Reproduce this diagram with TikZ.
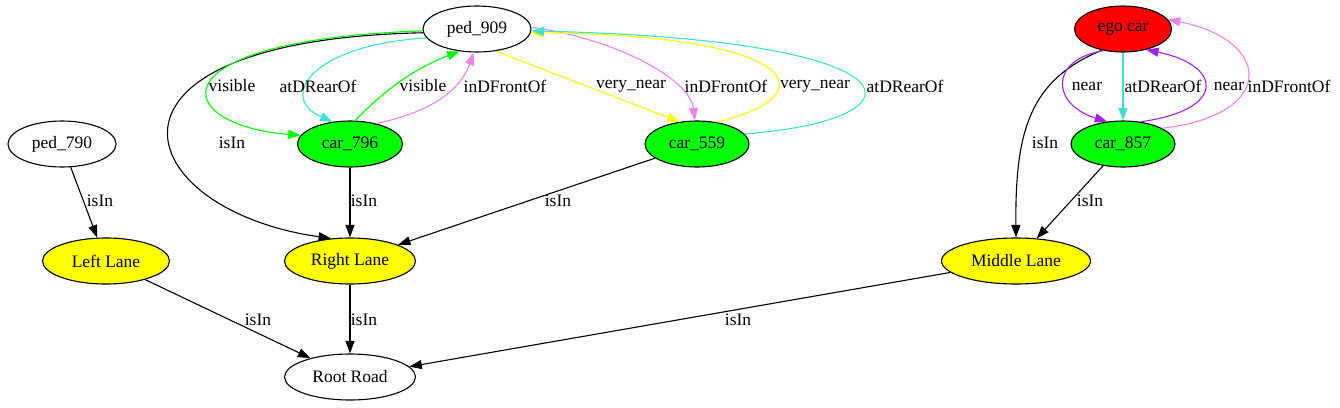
\documentclass[tikz,border=0pt]{standalone}
\usepackage{fontspec}
\setmainfont{Liberation Serif}
\usetikzlibrary{arrows.meta,shapes.geometric}
\definecolor{gvgreen}{HTML}{00FF00}
\definecolor{gvturq}{HTML}{40E0D0}
\definecolor{gvviolet}{HTML}{EE82EE}
\definecolor{gvyellow}{HTML}{FFFF00}
\definecolor{gvpurple}{HTML}{A020F0}
\definecolor{gvred}{HTML}{FF0000}
\tikzset{
  gnode/.style={ellipse, draw=black, line width=1.1pt, inner sep=0pt, minimum height=46pt, font=\fontsize{17.5}{20}\selectfont},
  lbl/.style={font=\fontsize{17.5}{20}\selectfont, inner sep=0pt},
  edge/.style={line width=1.1pt, -{Triangle[length=12.5pt,width=9pt]}},
}
\begin{document}
\begin{tikzpicture}[x=1pt,y=-1pt]
\useasboundingbox (0,0) rectangle (1340,407);
% nodes
\node[gnode, minimum width=108pt] (ped909) at (477,29) {ped\_909};
\node[gnode, minimum width=105pt, fill=gvgreen] (car796) at (350,144) {car\_796};
\node[gnode, minimum width=104pt, fill=gvgreen] (car559) at (697,144) {car\_559};
\node[gnode, minimum width=97pt, fill=gvred] (ego) at (1123,29) {ego car};
\node[gnode, minimum width=104pt, fill=gvgreen] (car857) at (1123,144) {car\_857};
\node[gnode, minimum width=108pt] (ped790) at (62,144) {ped\_790};
\node[gnode, minimum width=127pt, fill=gvyellow] (left) at (106,261) {Left Lane};
\node[gnode, minimum width=131pt, fill=gvyellow] (right) at (350,261) {Right Lane};
\node[gnode, minimum width=149pt, fill=gvyellow] (middle) at (1016,261) {Middle Lane};
\node[gnode, minimum width=131pt] (root) at (350,377) {Root Road};
% straight black edges
\draw[edge] (ped790) -- (left);
\draw[edge] (left) -- (root);
\draw[edge] (right) -- (root);
\draw[edge] (middle) -- (root);
\draw[edge] (car796) -- (right);
\draw[edge] (car559) -- (right);
\draw[edge] (car857) -- (middle);
\node[lbl] (l1) at (100,201) {isIn};
\node[lbl] (l2) at (258,320) {isIn};
\node[lbl] (l3) at (364,320) {isIn};
\node[lbl] (l4) at (738,320) {isIn};
\node[lbl] (l5) at (364,201) {isIn};
\node[lbl] (l6) at (558,201) {isIn};
\node[lbl] (l7) at (1090,201) {isIn};
% curved edges
\draw[edge] (ped909.184) .. controls (70,40) and (130,210) .. (right.130);
\node[lbl] (l8) at (232,143) {isIn};
\draw[edge, gvgreen] (ped909.182) .. controls (150,40) and (170,125) .. (car796.170);
\node[lbl] (l9) at (232,86) {visible};
\draw[edge, gvturq] (ped909.190) .. controls (310,45) and (278,98) .. (car796.128);
\node[lbl] (l10) at (318,86) {atDRearOf};
\draw[edge, gvgreen] (car796.78) .. controls (380,95) and (410,70) .. (ped909.232);
\node[lbl] (l11) at (423,86) {visible};
\draw[edge, gvviolet] (car796.38) .. controls (440,110) and (462,85) .. (ped909.262);
\node[lbl] (l12) at (505,86) {inDFrontOf};
\draw[edge, gvyellow] (ped909.310) -- (car559.128);
\node[lbl] (l13) at (631,86) {very\_near};
\draw[edge, gvviolet] (ped909.2) .. controls (620,40) and (690,80) .. (car559.95);
\node[lbl] (l14) at (726,86) {inDFrontOf};
\draw[edge, gvyellow] (car559.48) .. controls (830,95) and (800,35) .. (ped909.356);
\node[lbl] (l15) at (815,86) {very\_near};
\draw[edge, gvturq] (car559.12) .. controls (930,120) and (930,40) .. (ped909.358);
\node[lbl] (l16) at (905,86) {atDRearOf};
\draw[edge] (ego.225) .. controls (1030,80) and (1015,130) .. (middle.north);
\node[lbl] (l17) at (1045,143) {isIn};
\draw[edge, gvpurple] (ego.228) .. controls (1048,60) and (1052,105) .. (car857.125);
\node[lbl] (l18) at (1087,86) {near};
\draw[edge, gvturq] (ego) -- (car857);
\node[lbl] (l19) at (1163,86) {atDRearOf};
\draw[edge, gvpurple] (car857.52) .. controls (1228,110) and (1222,65) .. (ego.318);
\node[lbl] (l20) at (1229,86) {near};
\draw[edge, gvviolet] (car857.22) .. controls (1278,115) and (1272,40) .. (ego.12);
\node[lbl] (l21) at (1289,86) {inDFrontOf};
\end{tikzpicture}
\end{document}
